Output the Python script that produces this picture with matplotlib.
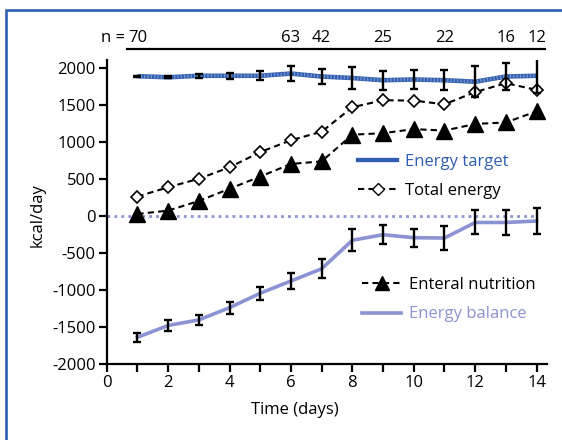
import matplotlib.pyplot as plt
import matplotlib.transforms as mtransforms
from matplotlib.lines import Line2D
from matplotlib.patches import Rectangle
import numpy as np

plt.rcParams["font.family"] = ["Open Sans", "DejaVu Sans"]
plt.rcParams["font.size"] = 12
plt.rcParams["axes.unicode_minus"] = False

days = [1, 2, 3, 4, 5, 6, 7, 8, 9, 10, 11, 12, 13, 14]
energy_target = [1885, 1870, 1890, 1890, 1890, 1920, 1880, 1860, 1830, 1840, 1830, 1810, 1880, 1890]
energy_target_err = [8, 15, 25, 40, 60, 100, 105, 150, 130, 130, 135, 210, 185, 235]
total_energy = [260, 385, 500, 655, 860, 1020, 1135, 1465, 1560, 1555, 1505, 1670, 1790, 1700]
enteral = [25, 70, 200, 365, 530, 700, 735, 1095, 1115, 1170, 1150, 1240, 1260, 1410]
balance = [-1640, -1480, -1405, -1240, -1045, -880, -715, -330, -255, -295, -300, -90, -90, -70]
balance_err = [60, 68, 68, 80, 90, 113, 130, 150, 130, 122, 158, 162, 169, 180]

n_days = [1, 6, 7, 9, 11, 13, 14]
n_values = [70, 63, 42, 25, 22, 16, 12]

BLUE = "#2f5eb0"
LILAC = "#8c93d2"
W, H = 562, 440

fig = plt.figure(figsize=(W / 100, H / 100), dpi=100)
ax = fig.add_axes([106.7 / W, 1 - 364 / H, 440 / W, 304 / H])

# blue frame around the figure (runs off the right and bottom edges)
fig.patches.append(Rectangle((6 / W, -0.1), 1.2, 1 - 10.3 / H + 0.1, transform=fig.transFigure,
                             fill=False, edgecolor=BLUE, lw=1.9))

ax.axhline(0, color=LILAC, lw=2, ls=(0, (1, 1.5)), xmin=0, xmax=14 / 14.33, zorder=1)

# energy target
ax.plot(days, energy_target, color=BLUE, lw=3.3, solid_capstyle="butt", zorder=3)
ax.plot(days, energy_target, color="white", lw=2.4, alpha=0.35, ls=(0, (0.4, 0.6)), zorder=3)
ax.errorbar(days, energy_target, yerr=energy_target_err, fmt="none", ecolor="black",
            elinewidth=1.7, capsize=3, capthick=1.7, zorder=5)

ax.plot(days, total_energy, color="black", lw=1.5, ls=(0, (3, 2)), marker="D", markersize=6,
        markerfacecolor="white", markeredgecolor="black", markeredgewidth=1.2, zorder=4)
ax.plot(days, enteral, color="black", lw=1.5, ls=(0, (3, 2)), marker="^", markersize=11,
        markerfacecolor="black", zorder=4)

ax.plot(days, balance, color=LILAC, lw=2.6, zorder=3)
ax.errorbar(days, balance, yerr=balance_err, fmt="none", ecolor="black",
            elinewidth=1.7, capsize=3, capthick=1.7, zorder=5)

ax.set_xlim(0, 14.33)
ax.set_ylim(-2000, 2103)
ax.set_xticks(np.arange(0, 15, 2))
ax.set_xticks(np.arange(1, 15, 2), minor=True)
ax.set_yticks(np.arange(-2000, 2001, 500))
ax.spines["top"].set_visible(False)
ax.spines["right"].set_visible(False)
for s in ["left", "bottom"]:
    ax.spines[s].set_linewidth(1.6)
ax.tick_params(which="both", direction="out", length=5.5, width=1.6, labelsize=12, pad=2.5)

fig.text(38 / W, 1 - 215 / H, "kcal/day", rotation=90, ha="center", va="center", fontsize=12)
fig.text(295 / W, 1 - 410 / H, "Time (days)", ha="center", va="center", fontsize=12)

# n = row above the plot
trans = mtransforms.blended_transform_factory(ax.transData, ax.transAxes)
ax.plot([0.66, 14.28], [1.036, 1.036], color="black", lw=1.6, transform=trans, clip_on=False)
for d, n in zip(n_days, n_values):
    ax.text(d, 1.045, str(n), ha="center", va="bottom", fontsize=12, transform=trans)
ax.text(0.6, 1.045, "n =", ha="right", va="bottom", fontsize=12, transform=trans)

# legends
h1 = [Line2D([], [], color=BLUE, lw=3.1),
      Line2D([], [], color="black", lw=1.5, ls=(0, (3, 2)), marker="D", markersize=6,
             markerfacecolor="white", markeredgecolor="black")]
leg1 = ax.legend(h1, ["Energy target", "Total energy"], loc="upper left",
                 bbox_to_anchor=(358 / W, 1 - 154 / H), bbox_transform=fig.transFigure,
                 frameon=False, handlelength=2.35, handletextpad=0.45, labelspacing=0.8,
                 fontsize=12, borderaxespad=0, borderpad=0)
leg1.get_texts()[0].set_color(BLUE)
ax.add_artist(leg1)
h2 = [Line2D([], [], color="black", lw=1.5, ls=(0, (3, 2)), marker="^", markersize=10,
             markerfacecolor="black"),
      Line2D([], [], color=LILAC, lw=2.6)]
leg2 = ax.legend(h2, ["Enteral nutrition", "Energy balance"], loc="upper left",
                 bbox_to_anchor=(362 / W, 1 - 277 / H), bbox_transform=fig.transFigure,
                 frameon=False, handlelength=2.35, handletextpad=0.45, labelspacing=0.8,
                 fontsize=12, borderaxespad=0, borderpad=0)
leg2.get_texts()[1].set_color(LILAC)

fig.savefig("out.png", dpi=100)
